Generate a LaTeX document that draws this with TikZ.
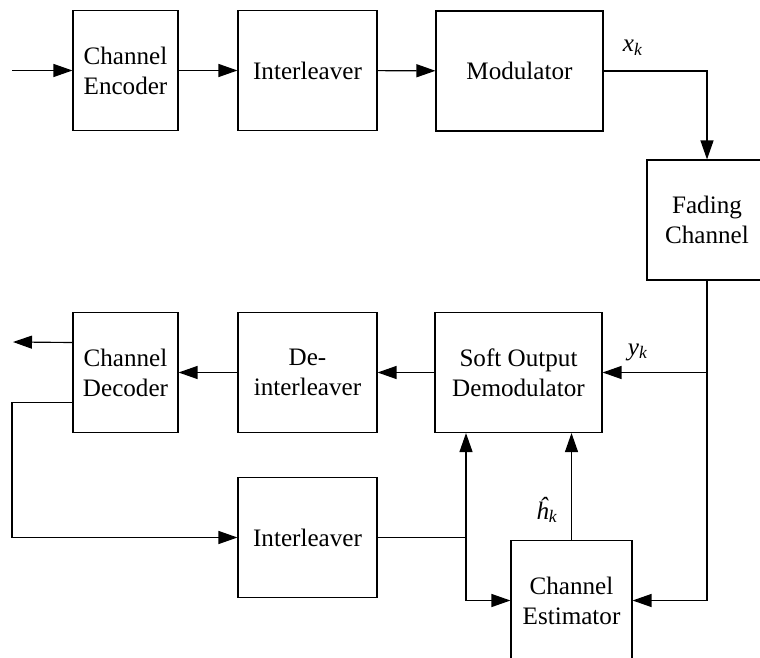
\documentclass[tikz,border=0pt]{standalone}
\usepackage{fontspec}
\setmainfont{Liberation Serif}
\usetikzlibrary{arrows.meta,calc}

% signal name with an italic subscript
\newcommand{\sig}[2]{\textit{#1}\textsubscript{\textit{#2}}}

\begin{document}
\begin{tikzpicture}[x=0.02cm, y=-0.02cm, line width=0.65pt,
	every node/.style={font=\fontsize{14.3}{17}\selectfont},
	blk/.style={draw, align=center, inner sep=0pt, minimum height=2.4cm},
	>={Triangle[length=3.8mm, width=2.6mm]}]
	\useasboundingbox (0,0) rectangle (760,658);
	\clip (0,0) rectangle (760,658);
	% transmitter chain
	\node[blk, minimum width=2.1cm] (enc) at (125.5,70.5) {Channel\\Encoder};
	\node[blk, minimum width=2.78cm] (ilv) at (307.5,70.5) {Interleaver};
	\node[blk, minimum width=3.34cm] (mod) at (519.5,71) {Modulator};
	\node[blk, minimum width=2.4cm] (fade) at (707,220) {Fading\\Channel};
	% receiver chain
	\node[blk, minimum width=2.1cm] (dec) at (125.5,372.5) {Channel\\Decoder};
	\node[blk, minimum width=2.78cm] (dilv) at (307.5,372.5) {De-\\interleaver};
	\node[blk, minimum width=3.34cm] (demod) at (518.5,372.5) {Soft Output\\Demodulator};
	\node[blk, minimum width=2.78cm] (ilv2) at (307.5,537.5) {Interleaver};
	\node[blk, minimum width=2.42cm] (est) at (571.5,600.5) {Channel\\Estimator};
	\coordinate (src) at (12,70.5);
	\coordinate (sink) at (13,342);
	\coordinate (fb) at (12,537.5);
	\coordinate (ytap) at (fade.south |- demod.east);
	\coordinate (j) at (466,537.5);
	\draw[->] (src) -- (enc);
	\draw[->] (enc) -- (ilv);
	\draw[->] (ilv) -- (mod);
	\draw[->] (mod.east) -| (fade.north);
	\draw[->] (fade.south) -- (ytap) -- (demod.east);
	\draw[->] (ytap) |- (est.east);
	\draw[->] (demod) -- (dilv);
	\draw[->] (dilv) -- (dec);
	\draw[->] ([yshift=0.6cm]dec.west) -- (sink);
	\draw[->] ([yshift=-0.6cm]dec.west) -| (fb) -- (ilv2.west);
	\draw (ilv2.east) -- (j);
	\draw[->] (j) -- (j |- demod.south);
	\draw[->] (j) |- (est.west);
	\draw[->] (est.north) -- (est.north |- demod.south);
	% signal labels
	\node (xk) at (633,48) {\sig{x}{k}};
	\node (yk) at (638,352) {\sig{y}{k}};
	\node (hk) at (547,510) {\sig{\^{h}}{k}};
\end{tikzpicture}
\end{document}
